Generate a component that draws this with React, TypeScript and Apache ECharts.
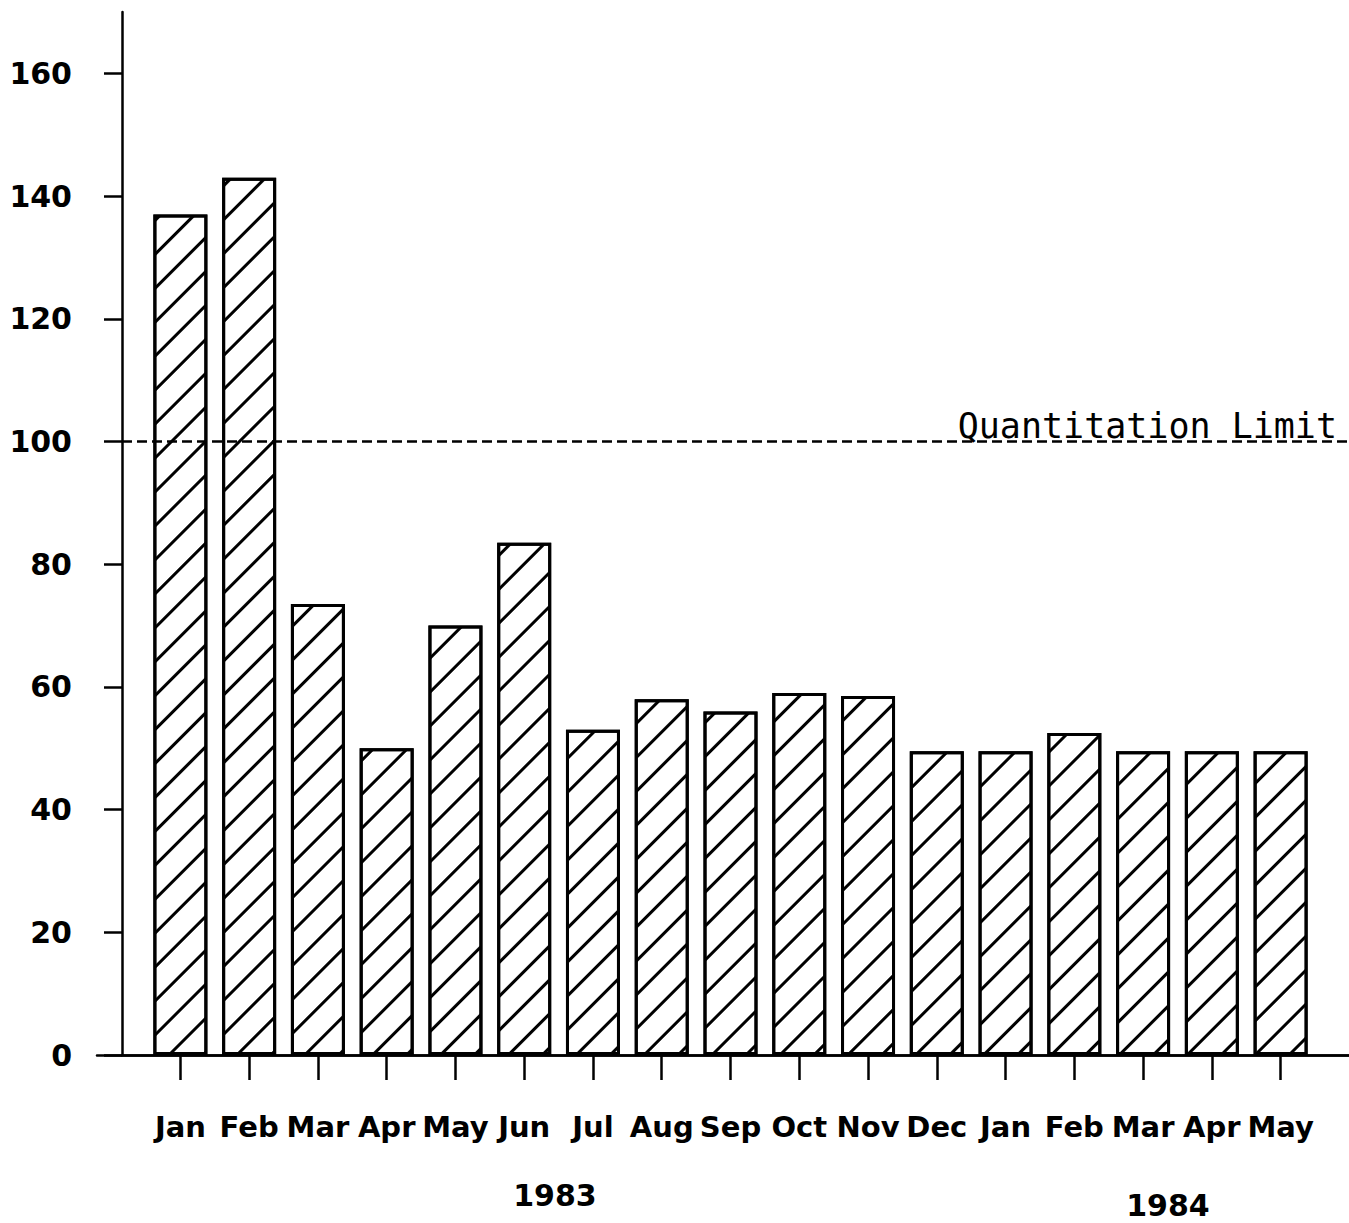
import React, { useEffect, useRef } from "react";
import * as echarts from "echarts";

const months = ["Jan", "Feb", "Mar", "Apr", "May", "Jun", "Jul", "Aug", "Sep", "Oct", "Nov", "Dec", "Jan", "Feb", "Mar", "Apr", "May"];
const values = [137, 143, 73.5, 50, 70, 83.5, 53, 58, 56, 59, 58.5, 49.5, 49.5, 52.5, 49.5, 49.5, 49.5];
const yTicks = [0, 20, 40, 60, 80, 100, 120, 140, 160];
const limitValue = 100;
const limitLabel = "Quantitation Limit";
const years = [
  { text: "1983", x: 555, y: 1195 },
  { text: "1984", x: 1168, y: 1205 },
];

const FONT = "DejaVu Sans";
const BLACK = "#000";

export default function App() {
  const ref = useRef<HTMLDivElement>(null);
  useEffect(() => {
    document.body.style.margin = "0";
    const chart = echarts.init(ref.current!, null, { renderer: "svg" });
    const top = 12;
    const bottom = 1223 - 1055;
    chart.setOption({
      animation: false,
      backgroundColor: "#fff",
      grid: [
        { left: 122, right: 0, top, bottom },
        { left: 97, right: 0, top, bottom },
        { left: 146, right: 34, top, bottom },
      ],
      xAxis: [
        {
          gridIndex: 0, type: "value", min: 0, max: 1, position: "top",
          axisLine: { show: true, lineStyle: { color: BLACK, width: 2.5 } },
          axisTick: { show: false }, axisLabel: { show: false }, splitLine: { show: false },
        },
        {
          gridIndex: 1, type: "value", min: 0, max: 1, position: "bottom",
          axisLine: { show: true, lineStyle: { color: BLACK, width: 2.5 } },
          axisTick: { show: false }, axisLabel: { show: false }, splitLine: { show: false },
        },
        {
          gridIndex: 2, type: "category", data: months, position: "bottom",
          axisLine: { show: false },
          axisTick: { show: true, alignWithLabel: true, length: 25, lineStyle: { color: BLACK, width: 2.5 } },
          axisLabel: { color: BLACK, fontFamily: FONT, fontSize: 29, fontWeight: "bold", margin: 57, interval: 0 },
          splitLine: { show: false },
        },
      ],
      yAxis: [
        {
          gridIndex: 0, type: "value", min: 0, max: 170, interval: 20,
          axisLine: { show: true, lineStyle: { color: BLACK, width: 2.5 } },
          axisTick: { show: true, length: 18, customValues: yTicks, lineStyle: { color: BLACK, width: 2.5 } },
          axisLabel: {
            color: BLACK, fontFamily: FONT, fontSize: 30, fontWeight: "bold", margin: 50, customValues: yTicks,
            padding: [0, 0, 16, 0],
          },
          splitLine: { show: false },
        },
        { gridIndex: 1, type: "value", min: 0, max: 170, show: false },
        { gridIndex: 2, type: "value", min: 0, max: 170, show: false },
      ],
      series: [
        {
          type: "line", xAxisIndex: 0, yAxisIndex: 0, data: [], silent: true,
          markLine: {
            silent: true, symbol: "none",
            lineStyle: { color: BLACK, width: 2.5, type: [10, 5] },
            label: {
              show: true, position: "insideEndTop", formatter: limitLabel,
              color: BLACK, fontFamily: "DejaVu Sans Mono", fontSize: 35, distance: [12, -2],
            },
            data: [{ yAxis: limitValue }],
          },
        },
        {
          type: "bar", xAxisIndex: 2, yAxisIndex: 2, data: values, barWidth: 54,
          itemStyle: {
            color: "#fff", borderColor: BLACK, borderWidth: 3,
            decal: {
              symbol: "rect", symbolSize: 1, color: BLACK,
              dashArrayX: [1, 0], dashArrayY: [3, 21], rotation: -Math.PI / 4,
            },
          },
        },
      ],
      graphic: years.map((y) => ({
        type: "text", x: y.x, y: y.y,
        style: { text: y.text, fill: BLACK, font: `bold 30px "${FONT}"`, align: "center", verticalAlign: "middle" },
      })),
    });
    return () => chart.dispose();
  }, []);
  return <div ref={ref} style={{ width: 1349, height: 1223 }} />;
}
